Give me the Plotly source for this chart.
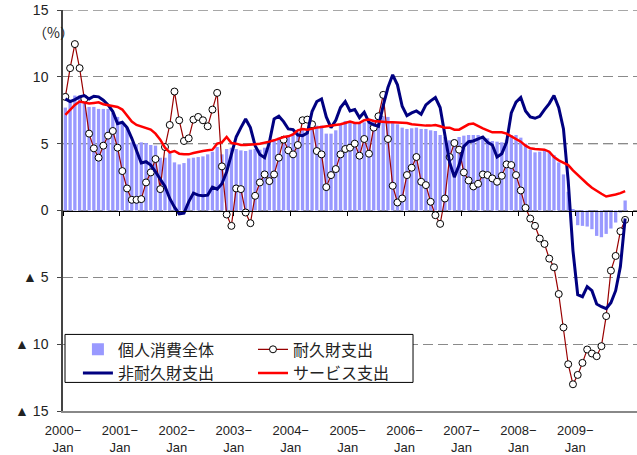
import plotly.graph_objects as go

# 個人消費全体 (bars), 2000-Jan .. 2009-Nov, % y/y
total = [7.7, 8.3, 8.6, 8.6, 8.25, 7.75, 7.75, 7.6, 7.6, 7.6, 7.3, 7.0,
         6.6, 6.2, 5.1, 4.95, 5.1, 5.05, 4.9, 4.85, 3.95, 3.95, 4.3, 3.6,
         3.45, 3.55, 3.9, 3.95, 4.0, 4.05, 4.2, 4.4, 4.75, 4.2, 4.6, 4.7,
         4.6, 4.5, 4.45, 4.55, 4.6, 4.55, 4.7, 5.0, 5.3, 5.45, 5.55, 5.65,
         5.75, 5.85, 6.0, 6.1, 6.2, 6.35, 6.35, 5.75, 5.75, 6.0, 6.5, 6.7,
         6.7, 6.55, 6.5, 6.6, 6.6, 6.8, 7.0, 7.05, 7.0, 6.55, 6.45, 6.2,
         6.1, 6.15, 6.2, 6.1, 6.1, 6.0, 5.95, 5.65, 5.5, 5.25, 5.35, 5.5,
         5.6, 5.65, 5.65, 5.65, 5.5, 5.4, 5.2, 5.15, 5.1, 5.3, 5.65, 5.65,
         5.45, 5.0, 4.55, 4.35, 4.4, 4.45, 4.4, 4.15, 3.6, 2.7, 1.4, 0.05,
         -1.1, -1.15, -1.2, -1.4, -1.9, -2.0, -1.75, -1.35, -0.9, -0.15, 0.75]

# 耐久財支出
durable = [8.5, 10.65, 12.45, 10.65, 8.35, 5.75, 4.65, 3.95, 4.85, 5.6, 5.95, 4.7,
           2.95, 1.65, 0.8, 0.8, 0.85, 2.1, 2.85, 3.85, 1.6, 4.75, 6.4, 8.9,
           6.75, 5.2, 5.4, 6.8, 7.0, 6.75, 6.3, 7.55, 8.8, 3.3, -0.3, -1.15,
           1.65, 1.6, -0.15, -0.95, 1.1, 2.1, 2.7, 2.2, 2.7, 3.95, 5.3, 4.5,
           4.2, 4.9, 6.75, 6.8, 6.45, 4.45, 4.2, 1.75, 2.65, 3.1, 4.2, 4.6,
           4.7, 5.0, 4.1, 5.35, 4.25, 6.2, 7.05, 8.65, 5.35, 1.85, 0.6, 0.9,
           2.65, 3.2, 4.0, 2.15, 1.9, 0.65, -0.35, -1.0, 0.9, 4.0, 5.05, 4.55,
           2.85, 2.25, 1.8, 2.0, 2.7, 2.65, 2.4, 2.15, 2.6, 3.45, 3.4, 2.65,
           1.5, 0.2, -0.6, -1.15, -2.1, -2.5, -3.6, -4.25, -6.25, -8.75, -11.5, -13.0,
           -12.3, -11.4, -10.4, -10.7, -10.9, -10.15, -7.9, -4.5, -3.4, -1.55, -0.7]

# 非耐久財支出
nondurable = [8.35, 8.15, 8.3, 8.5, 8.6, 8.35, 8.55, 8.5, 8.25, 7.9, 7.4, 6.5,
              6.6, 6.2, 5.4, 4.4, 3.55, 3.65, 3.4, 2.9, 2.3, 1.8, 0.9, 0.25,
              -0.25, -0.2, 0.65, 1.3, 1.15, 1.1, 1.15, 1.75, 1.6, 2.0, 2.9, 4.2,
              5.5, 6.2, 6.85, 6.2, 4.85, 4.2, 3.95, 5.1, 6.85, 7.05, 6.65, 6.1,
              6.05, 5.65, 5.6, 5.8, 7.4, 8.15, 8.35, 7.0, 6.2, 6.75, 7.7, 8.15,
              7.45, 7.55, 6.95, 7.35, 6.6, 6.4, 6.3, 7.85, 9.2, 10.15, 9.4, 7.8,
              7.1, 7.3, 7.45, 7.2, 7.9, 8.2, 8.45, 7.7, 5.7, 3.6, 2.5, 3.4,
              4.8, 5.15, 5.2, 5.35, 5.5, 5.1, 4.9, 4.0, 4.25, 5.1, 7.3, 8.1,
              8.45, 7.45, 7.0, 6.9, 7.05, 7.55, 8.0, 8.6, 7.7, 6.1, 2.2, -3.0,
              -6.3, -6.45, -5.7, -6.0, -7.0, -7.2, -7.35, -6.9, -6.0, -4.2, -0.6]

# サービス支出
services = [7.15, 7.5, 7.9, 8.15, 8.1, 8.0, 8.05, 8.1, 7.95, 7.9, 7.85, 7.75,
            7.55, 7.1, 6.65, 6.4, 6.3, 6.2, 6.05, 5.75, 5.3, 4.7, 4.35, 4.45,
            4.25, 4.2, 4.2, 4.3, 4.4, 4.45, 4.5, 4.55, 5.0, 5.1, 5.5, 5.05,
            5.0, 4.9, 4.9, 4.9, 4.95, 5.0, 5.05, 5.15, 5.25, 5.4, 5.5, 5.55,
            5.7, 6.0, 6.1, 6.05, 6.15, 6.2, 6.25, 6.3, 6.35, 6.35, 6.45, 6.55,
            6.65, 6.55, 6.55, 6.75, 6.8, 6.7, 6.65, 6.6, 6.6, 6.6, 6.6, 6.6,
            6.55, 6.45, 6.4, 6.35, 6.35, 6.35, 6.4, 6.3, 6.2, 6.2, 6.05, 6.05,
            6.25, 6.45, 6.5, 6.3, 6.15, 6.0, 5.85, 5.85, 5.85, 5.75, 5.55, 5.4,
            5.15, 4.85, 4.65, 4.6, 4.6, 4.55, 4.4, 4.0, 3.75, 3.6, 3.4, 3.0,
            2.65, 2.3, 2.0, 1.7, 1.45, 1.25, 1.05, 1.1, 1.2, 1.3, 1.45]

years = ["2000", "2001", "2002", "2003", "2004", "2005", "2006", "2007", "2008", "2009"]
month_label = "Jan"
y_ticks = [-15, -10, -5, 0, 5, 10, 15]
y_ticktext = ["▲ 15", "▲ 10", "▲ 5", "0", "5", "10", "15"]

idx = list(range(len(total)))
year_bounds = [-0.5 + 12 * k for k in range(len(years) + 1)]
x_range = [-0.5, 120.5]

LAT = "Liberation Sans, Arial, sans-serif"
CJK = "Noto Sans CJK JP"

fig = go.Figure()
fig.add_trace(go.Bar(x=idx, y=total, name="個人消費全体", marker=dict(color="#9999FF", line=dict(width=0)),
                     xaxis="x", legend="legend"))
fig.add_trace(go.Scatter(x=idx, y=durable, name="耐久財支出", mode="lines+markers",
                         line=dict(color="#990000", width=1.2),
                         marker=dict(symbol="circle", size=7, color="white", line=dict(color="black", width=1)),
                         xaxis="x2", legend="legend2"))
fig.add_trace(go.Scatter(x=idx, y=nondurable, name="非耐久財支出", mode="lines",
                         line=dict(color="#000080", width=3), xaxis="x2", legend="legend"))
fig.add_trace(go.Scatter(x=idx, y=services, name="サービス支出", mode="lines",
                         line=dict(color="#FF0000", width=2.5), xaxis="x2", legend="legend2"))

fig.update_layout(
    width=637, height=455,
    margin=dict(l=63, r=0, t=10, b=42),
    plot_bgcolor="white", paper_bgcolor="white",
    bargap=0.3,
    showlegend=True,
    xaxis=dict(range=x_range, tickvals=year_bounds[:-1],
               ticktext=[f"{y}−<br>{month_label}" for y in years],
               showgrid=False, zeroline=False, showline=True, linecolor="#888888", linewidth=1.5,
               ticks="", ticklabelstandoff=7, tickfont=dict(family=LAT, size=13, color="#222222")),
    xaxis2=dict(range=x_range, overlaying="x", anchor="free", position=0.5,
                tickvals=year_bounds, showticklabels=False, ticks="outside", ticklen=4,
                tickcolor="black", showline=True, linecolor="black", linewidth=1,
                showgrid=False, zeroline=False),
    yaxis=dict(range=[-15, 15], tickvals=y_ticks, ticktext=y_ticktext,
               showgrid=True, gridcolor="#8a8a8a", gridwidth=1.3, griddash="10px,5px",
               zeroline=False, showline=True, linecolor="#444444", linewidth=1.5,
               ticks="outside", ticklen=4, tickcolor="#444444", ticklabelstandoff=6,
               tickfont=dict(family=LAT, size=14, color="#222222")),
    legend=dict(x=0.026, y=0.196, xanchor="left", yanchor="top", orientation="v",
                bgcolor="rgba(0,0,0,0)", borderwidth=0,
                font=dict(family=CJK, size=16, color="#222222")),
    legend2=dict(x=0.331, y=0.196, xanchor="left", yanchor="top", orientation="v",
                 bgcolor="rgba(0,0,0,0)", borderwidth=0,
                 font=dict(family=CJK, size=16, color="#222222")),
    shapes=[
        dict(type="line", xref="paper", yref="y", x0=0, x1=1, y0=5, y1=5,
             line=dict(color="black", width=1, dash="10px,5px"), layer="below"),
        dict(type="line", xref="paper", yref="y", x0=0, x1=1, y0=15, y1=15,
             line=dict(color="#8a8a8a", width=1.5, dash="10px,5px"), layer="below"),
        dict(type="rect", xref="paper", yref="paper", x0=0.0035, x1=0.6098, y0=0.0713, y1=0.191,
             line=dict(color="black", width=1), fillcolor="white", layer="above"),
    ],
    annotations=[dict(text="（%）", xref="paper", yref="paper", x=-0.016, y=0.945,
                      xanchor="center", yanchor="middle", showarrow=False,
                      font=dict(family=CJK, size=14, color="#222222"))],
)

fig.write_html("out.html", config={"displayModeBar": False},
               post_script="document.body.style.margin='0px';document.body.style.overflow='hidden';")
